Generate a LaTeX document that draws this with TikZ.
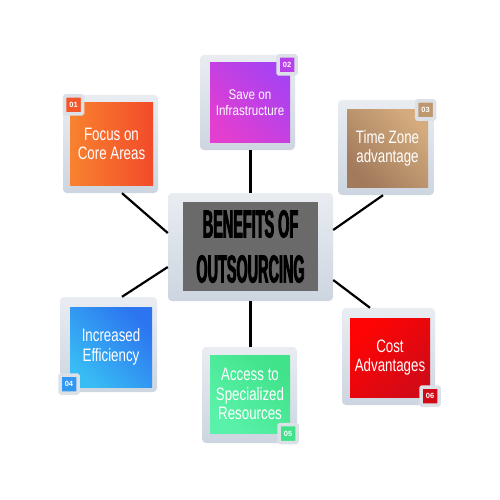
\documentclass[tikz,border=0pt]{standalone}
\usepackage{fontspec}
\setmainfont{Liberation Sans}
\newfontfamily\titlefont{Liberation Sans}[FakeStretch=0.37,FakeBold=2]
\newfontfamily\boxfont{Liberation Sans}[FakeStretch=0.74]
\newfontfamily\boxfontb{Liberation Sans}[FakeStretch=0.83]
\definecolor{frameT}{HTML}{E9EDF2}
\definecolor{frameB}{HTML}{CDD5E0}
\definecolor{badgeB}{HTML}{DCE1E8}
\definecolor{oA}{HTML}{F8822F}\definecolor{oB}{HTML}{F24B2A}
\definecolor{pA}{HTML}{A842F2}\definecolor{pB}{HTML}{E23ED0}
\definecolor{tA}{HTML}{D4AC7E}\definecolor{tB}{HTML}{A27A5C}
\definecolor{bA}{HTML}{2C74F0}\definecolor{bB}{HTML}{38BCF4}
\definecolor{gA}{HTML}{40E28A}\definecolor{gB}{HTML}{5AF2AA}
\definecolor{rA}{HTML}{FF0404}\definecolor{rB}{HTML}{D20A16}
\definecolor{cg}{HTML}{6A6A6A}
\begin{document}
\begin{tikzpicture}[x=1pt,y=-1pt,
  frame/.style={rounded corners=4pt, top color=frameT, bottom color=frameB, inner sep=0pt},
  inner/.style={inner sep=0pt, text=white, align=center, font=\boxfont\fontsize{18}{19.5}\selectfont},
  badge/.style={draw=badgeB, line width=3.5pt, rounded corners=1pt, minimum size=18pt, inner sep=0pt, text=white, font=\fontsize{7.5}{7.5}\bfseries\selectfont},
  conn/.style={line width=2.2pt, black}]
\useasboundingbox (0,0) rectangle (500,500);
\fill[white] (0,0) rectangle (500,500);
% center
\node[frame, minimum width=165, minimum height=108] (c) at (250.5,247) {};
\node[inner sep=0pt, fill=cg, minimum width=135, minimum height=89, align=center, font=\titlefont\bfseries\fontsize{39}{45}\selectfont] (ci) at (250.5,246.5) {BENEFITS OF\\OUTSOURCING};
% boxes
\node[frame, minimum width=95, minimum height=98] (f1) at (110.5,144) {};
\node[inner, minimum width=83, minimum height=82, left color=oA, right color=oB] (i1) at (111.5,144) {Focus on\\Core Areas};
\node[frame, minimum width=95, minimum height=95] (f2) at (247.5,102.5) {};
\node[inner, minimum width=80, minimum height=79, top color=pA, bottom color=pB, shading angle=-45, font=\boxfontb\fontsize{14}{15.5}\selectfont] (i2) at (250,102.5) {Save on\\Infrastructure};
\node[frame, minimum width=96, minimum height=95] (f3) at (386,147.5) {};
\node[inner, minimum width=81, minimum height=77, top color=tA, bottom color=tB, shading angle=-45] (i3) at (387.5,148.5) {Time Zone\\advantage};
\node[frame, minimum width=97, minimum height=95] (f4) at (108.5,344.5) {};
\node[inner, minimum width=82, minimum height=80, top color=bA, bottom color=bB, shading angle=-45] (i4) at (111,347) {Increased\\Efficiency};
\node[frame, minimum width=95, minimum height=96] (f5) at (249.5,395) {};
\node[inner, minimum width=80, minimum height=78, top color=gA, bottom color=gB, shading angle=-45] (i5) at (250,394) {Access to\\Specialized\\Resources};
\node[frame, minimum width=93, minimum height=97] (f6) at (388.5,356.5) {};
\node[inner, minimum width=80, minimum height=79, top color=rA, bottom color=rB, shading angle=45] (i6) at (390,357.5) {Cost\\Advantages};
% badges
\node[badge, fill=oB!80!oA] (b1) at (73.5,105) {01};
\node[badge, fill=pA!70!pB] (b2) at (287,65) {02};
\node[badge, fill=tA!60!tB] (b3) at (425.5,110) {03};
\node[badge, fill=bA!50!bB] (b4) at (69,384) {04};
\node[badge, fill=gA] (b5) at (288,433.5) {05};
\node[badge, fill=rB] (b6) at (430,396) {06};
% connectors
\draw[conn] ([xshift=11.5pt]f1.south) -- ([yshift=14pt]c.west);
\draw[conn] (c.north |- f2.south) -- (c.north);
\draw[conn] ([xshift=-3pt]f3.south) -- ([yshift=17pt]c.east);
\draw[conn] ([yshift=-20pt]c.west) -- ([xshift=13.5pt]f4.north);
\draw[conn] (c.south) -- (c.south |- f5.north);
\draw[conn] ([yshift=-33pt]c.east) -- ([xshift=-18.5pt]f6.north);
\end{tikzpicture}
\end{document}
